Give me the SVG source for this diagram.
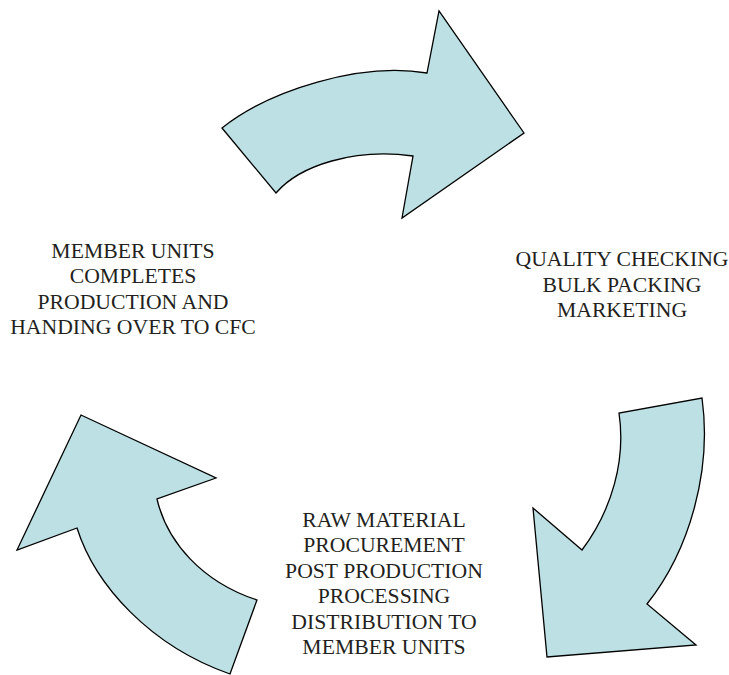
<svg xmlns="http://www.w3.org/2000/svg" width="729" height="675" viewBox="0 0 729 675">
<style>
.arrow{fill:#bce0e3;stroke:#000;stroke-width:1.3;stroke-linejoin:miter}
.lbl{font-family:"Liberation Serif","Times New Roman",serif;font-size:21.7px;fill:#231f20;text-anchor:middle}
</style>
<rect width="729" height="675" fill="#fff"/>
<g id="connectors">
<path id="arrow-top" class="arrow" d="M222,128 C270,90 360,62 427,73 L439,11 L524,133 L402,218 L413,156 C355,148 300,165 276,193 Z"/>
<path id="arrow-right" class="arrow" d="M702,398 C712,470 690,550 647,604 L696,645 L547,657 L533,508 L582,550 C612,510 626,460 619,413 Z"/>
<path id="arrow-left" class="arrow" d="M230,674 C150,646 95,585 77,528 L17,550 L81,415 L216,478 L157,499 C167,542 202,582 257,600 Z"/>
</g>
<g id="node-member">
<text class="lbl" x="133" y="258">MEMBER UNITS</text>
<text class="lbl" x="133" y="283">COMPLETES</text>
<text class="lbl" x="133" y="309">PRODUCTION AND</text>
<text class="lbl" x="133" y="334">HANDING OVER TO CFC</text>
</g>
<g id="node-quality">
<text class="lbl" x="622" y="266">QUALITY CHECKING</text>
<text class="lbl" x="622" y="292">BULK PACKING</text>
<text class="lbl" x="622" y="317">MARKETING</text>
</g>
<g id="node-raw">
<text class="lbl" x="384" y="527">RAW MATERIAL</text>
<text class="lbl" x="384" y="552">PROCUREMENT</text>
<text class="lbl" x="384" y="578">POST PRODUCTION</text>
<text class="lbl" x="384" y="603">PROCESSING</text>
<text class="lbl" x="384" y="629">DISTRIBUTION TO</text>
<text class="lbl" x="384" y="654">MEMBER UNITS</text>
</g>
</svg>
